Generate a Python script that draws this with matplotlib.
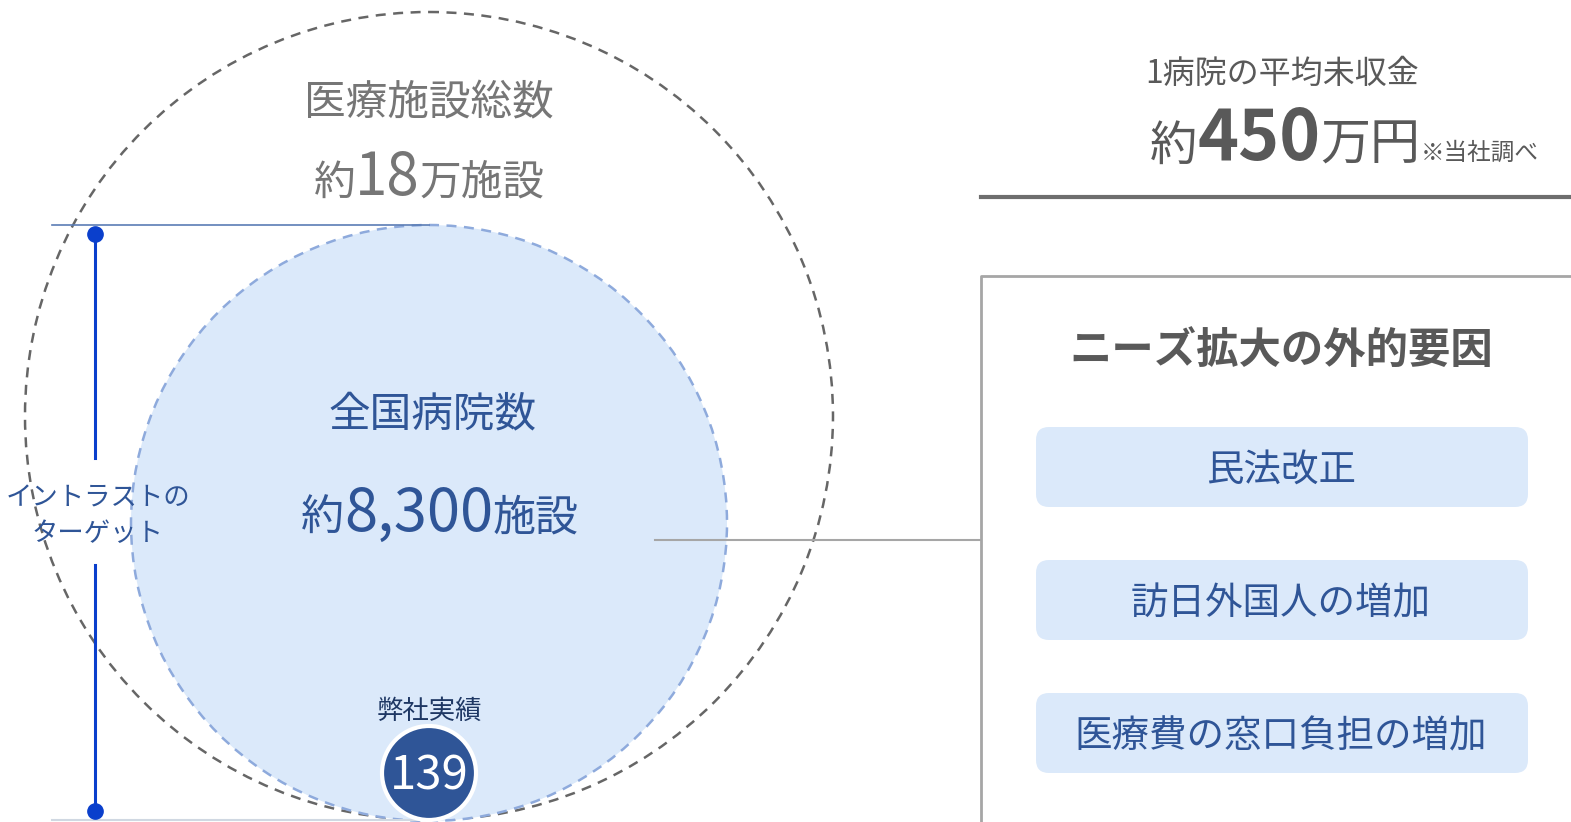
import matplotlib
matplotlib.use('Agg')
from matplotlib import pyplot as plt
from matplotlib.patches import Circle, FancyBboxPatch

plt.rcParams['font.family'] = ['Noto Sans CJK JP', 'DejaVu Sans']

# data / texts
total_label = "医療施設総数"
total_value = "18"          # 万施設
hospital_label = "全国病院数"
hospital_value = "8,300"    # 施設
our_label = "弊社実績"
our_value = 139
target_label = "イントラストの\nターゲット"
unpaid_label = "1病院の平均未収金"
unpaid_value = "450"        # 万円
unpaid_note = "※当社調べ"
factor_title = "ニーズ拡大の外的要因"
factors = ["民法改正", "訪日外国人の増加", "医療費の窓口負担の増加"]

W, H = 1571, 822
fig = plt.figure(figsize=(W / 100, H / 100), dpi=100)
ax = fig.add_axes([0, 0, 1, 1])
ax.set_xlim(0, W)
ax.set_ylim(H, 0)
ax.axis('off')
r = fig.canvas.get_renderer()

GRAY = '#767676'
BLUE = '#2f5597'
LIGHT = '#dbe9fa'
DY = 4  # Noto CJK sits a little high with va='center'


def run_text(x, y, parts, color, ha='center'):
    # place several text pieces on one baseline
    objs, widths = [], []
    for s, size, weight in parts:
        t = ax.text(0, y, s, fontsize=size, fontweight=weight, color=color,
                    va='baseline', ha='left')
        widths.append(t.get_window_extent(renderer=r).width)
        objs.append(t)
    cur = x - sum(widths) / 2 if ha == 'center' else x
    for t, w in zip(objs, widths):
        t.set_x(cur)
        cur += w


# circles
ax.add_patch(Circle((429, 416), 404, fill=False, ec='#666666', lw=1.8,
                    ls=(0, (4, 3))))
ax.add_patch(Circle((429, 523), 298, fc=LIGHT, ec='#8eaadc', lw=1.8,
                    ls=(0, (4, 3))))

# target bracket
ax.plot([52, 429], [225, 225], color='#5b7db5', lw=1.2)
ax.plot([52, 429], [820, 820], color='#d0d8e2', lw=1.5)
ax.plot([95, 95], [234, 458], color='#0a3fcc', lw=2.2)
ax.plot([95, 95], [565, 811], color='#0a3fcc', lw=2.2)
ax.plot([95, 95], [234, 811], 'o', color='#0a3fcc', ms=11, ls='none')
ax.text(98, 512 + DY, target_label, ha='center', va='center', fontsize=19,
        color=BLUE, linespacing=1.4)

# big circle texts
ax.text(429, 100 + DY, total_label, ha='center', va='center', fontsize=30, color=GRAY)
run_text(429, 195, [("約", 30, 'normal'), (total_value, 42, 'normal'),
                    ("万施設", 30, 'normal')], GRAY)

# inner circle texts
ax.text(433, 411 + DY, hospital_label, ha='center', va='center', fontsize=30, color=BLUE)
run_text(440, 531, [("約", 31, 'normal'), (hospital_value, 43, 'normal'),
                    ("施設", 31, 'normal')], BLUE)

ax.text(429, 707 + DY, our_label, ha='center', va='center', fontsize=19, color='#1f3864')
ax.add_patch(Circle((429, 773), 47, fc=BLUE, ec='white', lw=3, zorder=5))
ax.text(429, 789, str(our_value), ha='center', va='baseline', fontsize=34,
        color='white', zorder=6)

# connector
ax.plot([655, 981], [540, 540], color='#a6a6a6', lw=1.5)

# unpaid amount
ax.text(1145, 70 + DY, unpaid_label, ha='left', va='center', fontsize=23, color='#595959')
run_text(1150, 160, [("約", 34, 'normal'), (unpaid_value, 50, 'bold'),
                     ("万円", 36, 'normal'), (unpaid_note, 17, 'normal')],
         '#595959', ha='left')
ax.plot([981, W], [197, 197], color='#6e6e6e', lw=3)

# factors box
ax.plot([981, 981, W], [H, 276, 276], color='#a6a6a6', lw=2)
ax.text(1281, 347 + DY, factor_title, ha='center', va='center', fontsize=30.5,
        fontweight='bold', color='#595959')
for i, f in enumerate(factors):
    yc = 467 + i * 133
    ax.add_patch(FancyBboxPatch((1036, yc - 40), 492, 80,
                                boxstyle='round,pad=0,rounding_size=13',
                                fc=LIGHT, ec='none'))
    ax.text(1281, yc + DY, f, ha='center', va='center', fontsize=27, color=BLUE)

fig.savefig('out.png', dpi=100)
